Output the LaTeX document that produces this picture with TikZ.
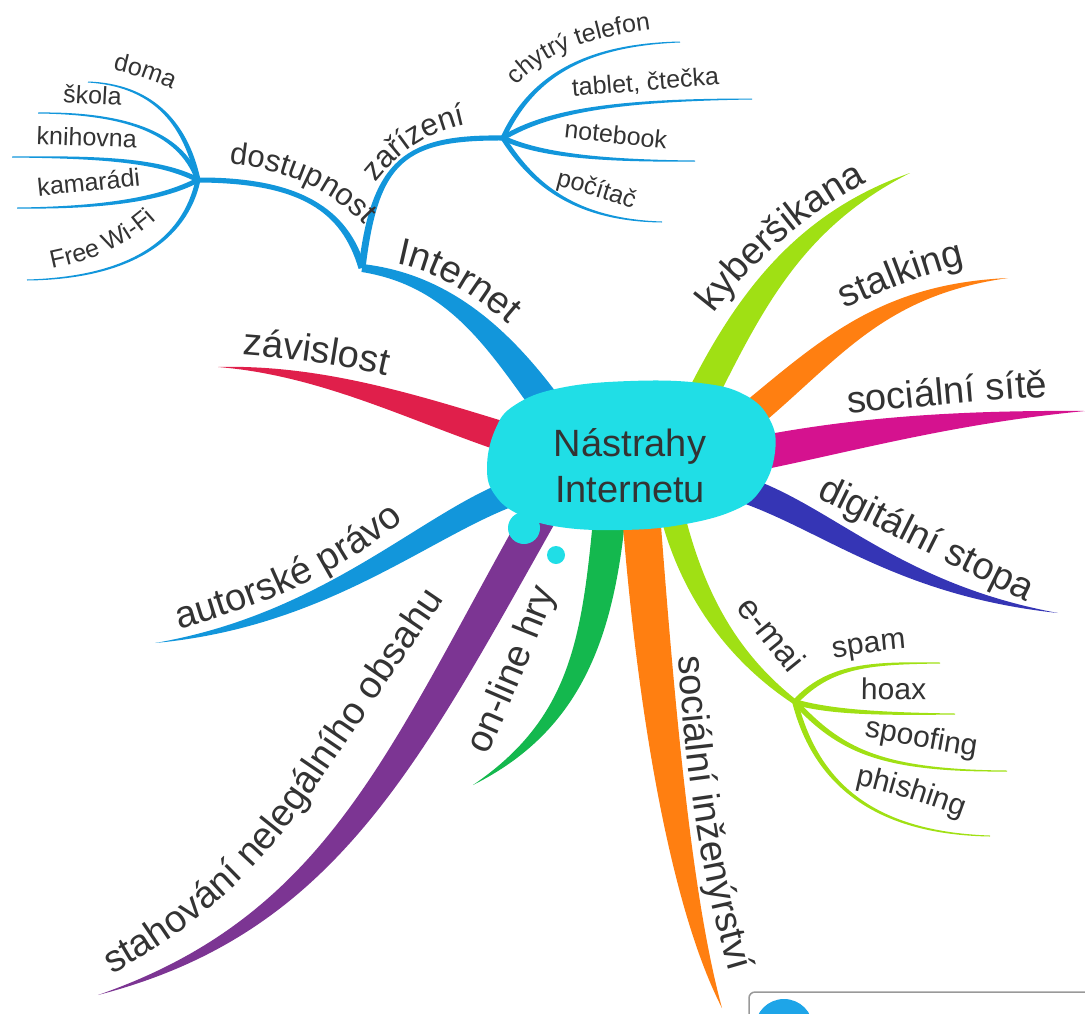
\documentclass[tikz,border=0pt]{standalone}
\usepackage{fontspec}
\setmainfont{Liberation Sans}
\usetikzlibrary{calc}
\usetikzlibrary{decorations.text}
\definecolor{hubcyan}{RGB}{32,222,230}
\definecolor{netblue}{RGB}{18,150,219}
\definecolor{addred}{RGB}{224,31,75}
\definecolor{dlpurple}{RGB}{124,53,147}
\definecolor{gamegreen}{RGB}{20,184,78}
\definecolor{engorange}{RGB}{255,127,17}
\definecolor{mailgreen}{RGB}{160,224,20}
\definecolor{tracenavy}{RGB}{53,53,181}
\definecolor{socmagenta}{RGB}{213,18,143}
\definecolor{txtgray}{RGB}{51,51,51}
\definecolor{iconblue}{RGB}{30,165,232}
\pgfdeclarelayer{bg}
\pgfsetlayers{bg,main}
\tikzset{
	rootstyle/.style={align=center,text=txtgray,font=\fontsize{38}{46}\selectfont,inner sep=0pt},
	bubblestyle/.style={fill=hubcyan}
}
% tapered branch: colour, start, control 1, control 2, end, half widths (start, middle, end)
\newcommand{\branch}[8]{%
	\coordinate (b0) at #2; \coordinate (b1) at #3; \coordinate (b2) at #4; \coordinate (b3) at #5;
	\fill[#1] ($(b0)!#6!90:(b1)$) .. controls ($(b1)!#6!-90:(b0)$) and ($(b2)!#7!90:(b3)$) .. ($(b3)!#8!-90:(b2)$)
	-- ($(b3)!#8!90:(b2)$) .. controls ($(b2)!#7!-90:(b3)$) and ($(b1)!#6!90:(b0)$) .. ($(b0)!#6!-90:(b1)$) -- cycle;}
% label along a branch: size, baseline path, text
\newcommand{\lbl}[3]{%
	\path[decorate,decoration={text along path,text align=center,
		text={|\fontsize{#1}{#1}\selectfont\color{txtgray}|#3}}] #2;}

\begin{document}
\begin{tikzpicture}[x=1pt,y=-1pt]
	\useasboundingbox (0,0) rectangle (1085,1013);
	% centre
	\fill[bubblestyle] plot[smooth cycle,tension=0.7] coordinates {(487,468) (495,430) (515,405) (560,388) (630,381) (700,383) (745,395) (770,420) (775,452) (762,488) (735,510) (680,525) (620,530) (560,527) (520,515) (495,495)};
	\fill[bubblestyle] (524,528) circle (16);
	\fill[bubblestyle] (556,555) circle (9);
	\node[rootstyle] (root) at (630,466) {Nástrahy\\Internetu};
	% hubs and tips
	\coordinate (net) at (362,268);
	\coordinate (dost) at (198,180);
	\coordinate (zar) at (503,138);
	\coordinate (mail) at (795,702);
	\coordinate (zav) at (218,367);
	\coordinate (aut) at (155,643);
	\coordinate (stah) at (98,995);
	\coordinate (hry) at (473,785);
	\coordinate (inz) at (722,1008);
	\coordinate (stopa) at (1058,613);
	\coordinate (site) at (1085,411);
	\coordinate (stalk) at (1008,278);
	\coordinate (kyber) at (910,173);
	\foreach \n/\x/\y in {doma/88/82,skola/38/113,knih/12/157,kamar/17/208,wifi/27/280,
		phone/680/42,tablet/752/99,ntb/695/161,pc/662/222,
		spam/940/663,hoax/955/714,spoof/1007/771,phish/990/836}
		\coordinate (\n) at (\x,\y);
	\begin{pgfonlayer}{bg}
		% main branches
		\branch{netblue}{($(root)+(-78,-54)$)}{(500,340)}{(450,280)}{(net)}{15pt}{6pt}{4pt}
		\branch{addred}{($(root)+(-100,-21)$)}{(430,415)}{(330,370)}{(zav)}{15pt}{6pt}{0pt}
		\branch{netblue}{($(root)+(-110,24)$)}{(430,520)}{(330,620)}{(aut)}{13pt}{7pt}{0pt}
		\branch{dlpurple}{($(root)+(-90,49)$)}{(402,760)}{(330,925)}{(stah)}{17pt}{10pt}{0pt}
		\branch{gamegreen}{($(root)+(-20,44)$)}{(598,640)}{(575,725)}{(hry)}{16pt}{8pt}{0pt}
		\branch{engorange}{($(root)+(10,34)$)}{(655,700)}{(680,900)}{(inz)}{19pt}{12pt}{0pt}
		\branch{mailgreen}{($(root)+(40,39)$)}{(690,590)}{(730,655)}{(mail)}{12pt}{6pt}{2.5pt}
		\branch{tracenavy}{($(root)+(115,24)$)}{(830,520)}{(900,590)}{(stopa)}{13pt}{6pt}{0pt}
		\branch{socmagenta}{($(root)+(120,-11)$)}{(850,435)}{(950,417)}{(site)}{17pt}{7pt}{0pt}
		\branch{engorange}{($(root)+(115,-46)$)}{(830,350)}{(880,290)}{(stalk)}{14pt}{6pt}{0pt}
		\branch{mailgreen}{($(root)+(70,-66)$)}{(750,300)}{(800,220)}{(kyber)}{15pt}{8pt}{0pt}
		% second level
		\branch{netblue}{(net)}{(345,210)}{(300,180)}{(dost)}{3.5pt}{3pt}{2.5pt}
		\branch{netblue}{(net)}{(375,160)}{(405,137)}{(zar)}{3.5pt}{3pt}{2.5pt}
		% leaves
		\foreach \ax/\ay/\bx/\by/\tip in {185/120/150/85/doma,180/130/120/113/skola,160/160/100/157/knih,
			160/200/100/208/kamar,185/240/130/278/wifi}
			{\branch{netblue}{(dost)}{(\ax,\ay)}{(\bx,\by)}{(\tip)}{2.5pt}{1.5pt}{0.5pt}}
		\foreach \ax/\ay/\bx/\by/\tip in {530/80/580/45/phone,550/110/620/100/tablet,540/155/600/161/ntb,
			530/180/570/220/pc}
			{\branch{netblue}{(zar)}{(\ax,\ay)}{(\bx,\by)}{(\tip)}{2.5pt}{1.5pt}{0.5pt}}
		\foreach \ax/\ay/\bx/\by/\tip in {830/665/870/663/spam,830/712/880/714/hoax,840/750/880/771/spoof,
			815/780/870/833/phish}
			{\branch{mailgreen}{(mail)}{(\ax,\ay)}{(\bx,\by)}{(\tip)}{2.8pt}{1.6pt}{0.5pt}}
	\end{pgfonlayer}
	% labels
	\lbl{38}{(388,262) .. controls (430,268) and (470,290) .. (515,330)}{Internet}
	\lbl{38}{(232,354) .. controls (280,357) and (340,364) .. (397,378)}{závislost}
	\lbl{38}{(166,633) .. controls (240,612) and (330,585) .. (414,511)}{autorské právo}
	\lbl{38}{(95,983) .. controls (195,932) and (262,868) .. (312,793) -- (455,583)}{stahování nelegálního obsahu}
	\lbl{38}{(480,772) .. controls (505,717) and (532,655) .. (562,575)}{on-line hry}
	\lbl{38}{(677,635) .. controls (684,760) and (700,880) .. (736,993)}{sociální inženýrství}
	\lbl{34}{(724,594) -- (801,689)}{e-mai}
	\lbl{38}{(805,492) .. controls (880,528) and (960,570) .. (1037,607)}{digitální stopa}
	\lbl{38}{(833,415) .. controls (900,409) and (980,400) .. (1063,396)}{sociální sítě}
	\lbl{38}{(833,314) .. controls (870,298) and (920,273) .. (978,262)}{stalking}
	\lbl{38}{(705,325) .. controls (745,270) and (800,215) .. (880,176)}{kyberšikana}
	\lbl{31}{(220,163) .. controls (285,168) and (335,190) .. (370,232)}{dostupnost}
	\lbl{31}{(368,192) .. controls (395,155) and (425,130) .. (478,122)}{zařízení}
	\lbl{25}{(104,68) .. controls (125,72) and (155,80) .. (180,94)}{doma}
	\lbl{25}{(56,102) -- (128,106)}{škola}
	\lbl{25}{(30,144) -- (143,148)}{knihovna}
	\lbl{25}{(31,197) -- (148,185)}{kamarádi}
	\lbl{25}{(44,270) .. controls (88,262) and (128,248) .. (162,214)}{Free Wi-Fi}
	\lbl{25}{(508,97) .. controls (537,54) and (585,37) .. (665,28)}{chytrý telefon}
	\lbl{25}{(562,97) -- (730,84)}{tablet, čtečka}
	\lbl{25}{(555,137) -- (675,150)}{notebook}
	\lbl{25}{(547,183) .. controls (575,190) and (610,200) .. (641,212)}{počítač}
	\lbl{30}{(825,660) .. controls (850,655) and (880,650) .. (915,648)}{spam}
	\lbl{30}{(851,699) -- (936,700)}{hoax}
	\lbl{30}{(852,735) .. controls (890,740) and (940,752) .. (988,758)}{spoofing}
	\lbl{30}{(847,783) .. controls (885,790) and (930,805) .. (970,820)}{phishing}
	% window corner at the bottom
	\begin{scope}
		\clip (0,0) rectangle (1085,1013);
		\draw[gray!80,line width=1.5pt,rounded corners=6pt] (749,1030) -- (749,992) -- (1100,992);
		\fill[iconblue] (784,1028) circle (29);
	\end{scope}
\end{tikzpicture}
\end{document}
